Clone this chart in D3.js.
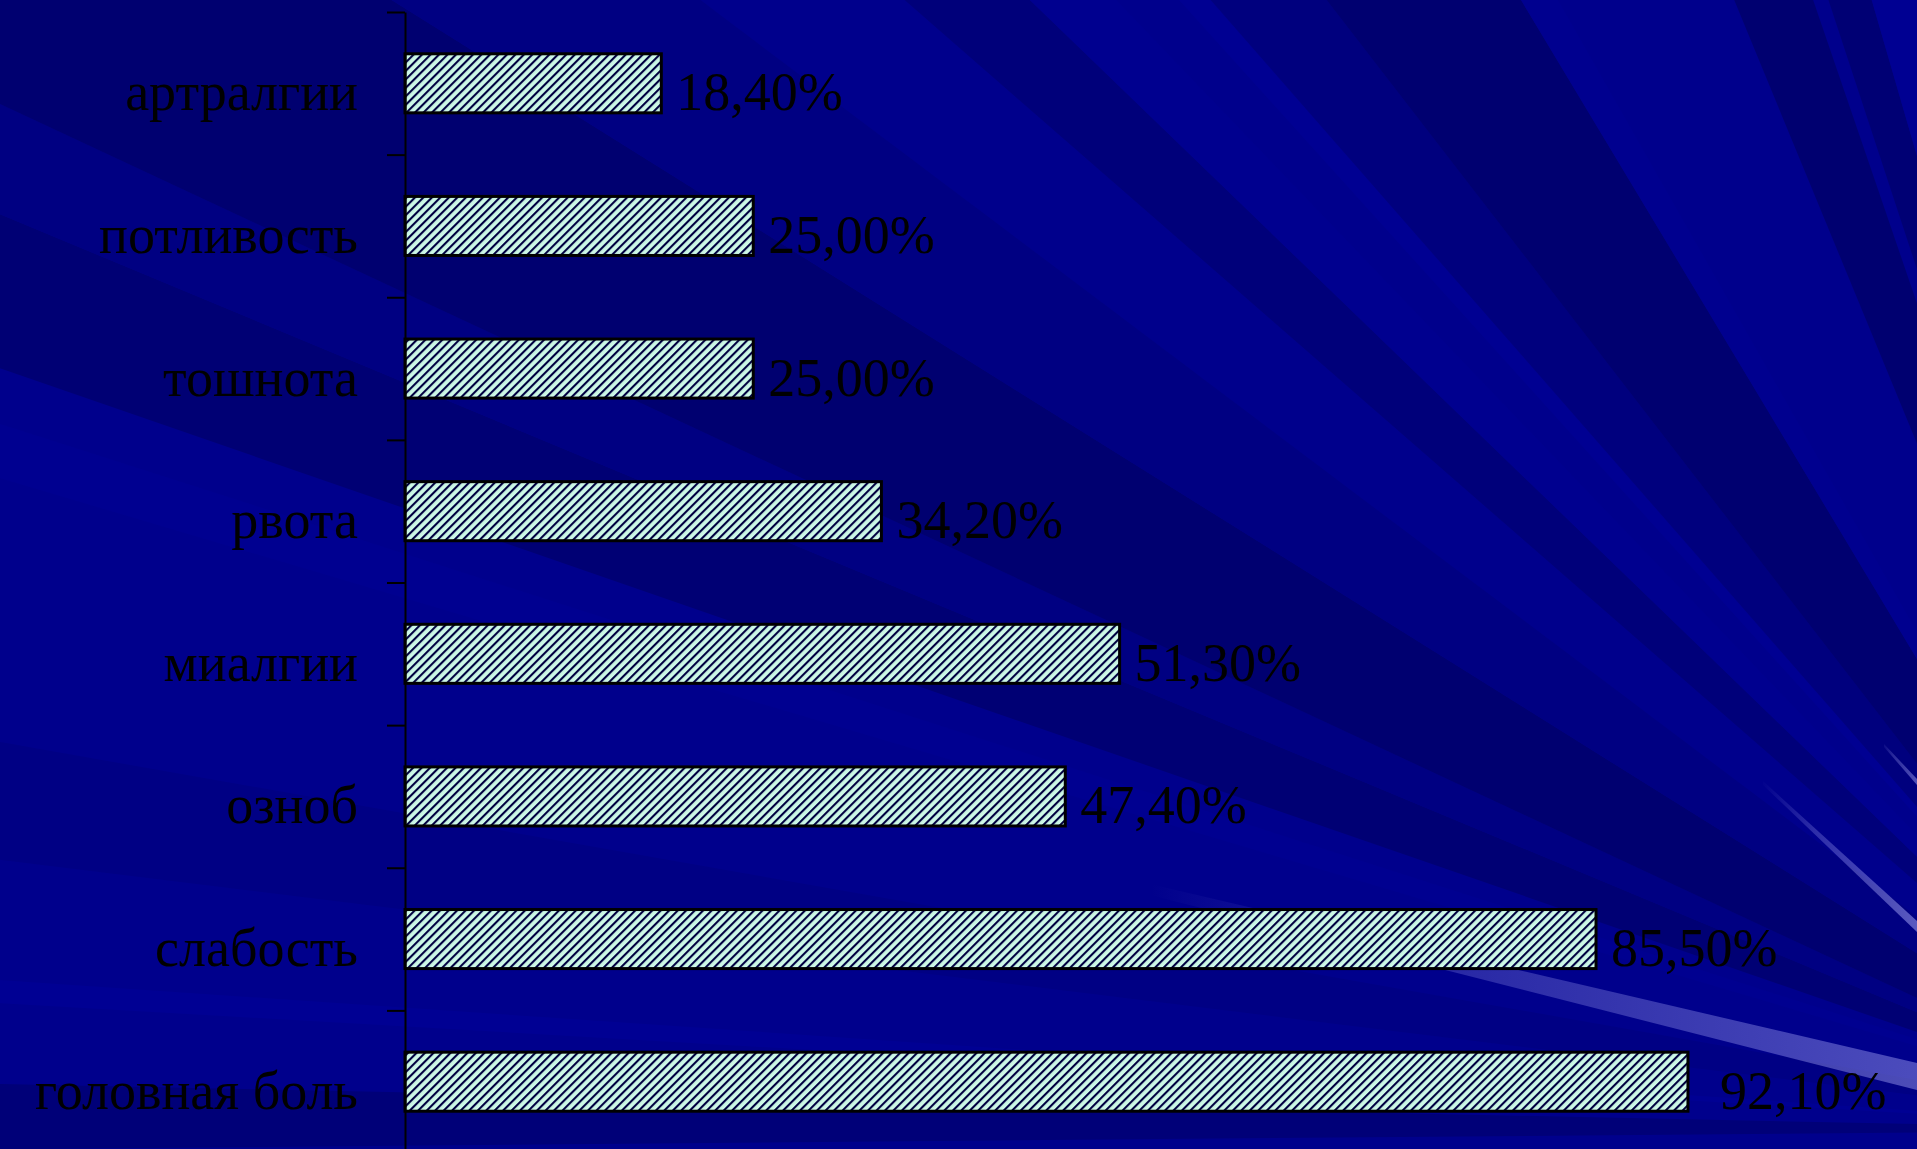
<!DOCTYPE html>
<html>
<head>
<meta charset="utf-8">
<script src="https://cdn.jsdelivr.net/npm/d3@7"></script>
<style>
  html, body { margin: 0; padding: 0; background: #00008c; overflow: hidden; }
  svg { display: block; }
</style>
</head>
<body>
<svg id="chart" width="1917" height="1149"></svg>
<script>
// Symptom frequency, percent of patients
const categories = ["артралгии", "потливость", "тошнота", "рвота", "миалгии", "озноб", "слабость", "головная боль"];
const values = [18.4, 25.0, 25.0, 34.2, 51.3, 47.4, 85.5, 92.1];

const W = 1917, H = 1149;
const svg = d3.select("#chart");
const defs = svg.append("defs");

// ---- Background: dark-blue rays fanning out from a point beyond the lower right corner ----
const focus = [2200, 1130];
const rays = [
  [179.5, 181.2, "#000078"],
  [183.3, 183.9, "#000093"],
  [187.0, 190.0, "#000084"],
  [196.5, 197.8, "#000090"],
  [199.1, 202.6, "#000074"],
  [202.6, 205.0, "#000082"],
  [205.0, 212.0, "#000070"],
  [212.0, 217.0, "#000082"],
  [221.1, 224.0, "#00007a"],
  [224.0, 226.2, "#00008f"],
  [227.9, 228.8, "#000092"],
  [228.8, 232.3, "#00007e"],
  [232.3, 239.0, "#000070"],
  [239.0, 240.4, "#00008f"],
  [247.6, 251.1, "#000070"],
  [251.8, 253.8, "#000074"],
  [253.8, 256.5, "#000092"]
];
const R = 5000, rad = Math.PI / 180;
const bg = svg.append("g").attr("class", "background");
bg.append("rect").attr("width", W).attr("height", H).attr("fill", "#00008c");
bg.selectAll("polygon.ray")
  .data(rays)
  .join("polygon")
  .attr("class", "ray")
  .attr("fill", d => d[2])
  .attr("points", d => [
      focus,
      [focus[0] + R * Math.cos(d[0] * rad), focus[1] + R * Math.sin(d[0] * rad)],
      [focus[0] + R * Math.cos(d[1] * rad), focus[1] + R * Math.sin(d[1] * rad)]
    ].map(p => p.join(",")).join(" "));

// pale highlight beams near the lower right
function beamGradient(id, x1, x2, peak) {
  const g = defs.append("linearGradient")
    .attr("id", id).attr("gradientUnits", "userSpaceOnUse")
    .attr("x1", x1).attr("y1", 0).attr("x2", x2).attr("y2", 0);
  g.append("stop").attr("offset", 0).attr("stop-color", "#b4b4ff").attr("stop-opacity", 0);
  g.append("stop").attr("offset", 0.35).attr("stop-color", "#b4b4ff").attr("stop-opacity", peak * 0.5);
  g.append("stop").attr("offset", 1).attr("stop-color", "#b4b4ff").attr("stop-opacity", peak);
}
beamGradient("beamWide", 1150, 1917, 0.42);
beamGradient("beamThin", 1760, 1917, 0.5);
beamGradient("beamTop", 1880, 1917, 0.45);

const beams = [
  { fill: "url(#beamWide)", pts: [[1150, 884], [1917, 1063], [1917, 1090], [1150, 895]] },
  { fill: "url(#beamThin)", pts: [[1763, 781], [1917, 921], [1917, 932], [1763, 785]] },
  { fill: "url(#beamTop)",  pts: [[1884, 744], [1917, 779], [1917, 785], [1884, 747]] }
];
bg.selectAll("polygon.beam")
  .data(beams)
  .join("polygon")
  .attr("class", "beam")
  .attr("fill", d => d.fill)
  .attr("points", d => d.pts.map(p => p.join(",")).join(" "));

// ---- Hatch fill for the bars: pale mint with navy upward diagonals ----
const hatch = defs.append("pattern")
  .attr("id", "hatch")
  .attr("patternUnits", "userSpaceOnUse")
  .attr("width", 6).attr("height", 6)
  .attr("patternTransform", "rotate(45)");
hatch.append("rect").attr("width", 6).attr("height", 6).attr("fill", "#ccf8e6");
hatch.append("rect").attr("x", 0).attr("width", 2.1).attr("height", 6).attr("fill", "#000040");

// ---- Scales ----
const x = d3.scaleLinear().domain([0, 100]).range([405, 1798]);
const y = d3.scaleBand()
  .domain(categories)
  .range([12, 1153])
  .paddingInner(0.586)
  .paddingOuter(0.293);
// band boundaries, used for the axis tick marks
const yEdge = d3.scaleLinear().domain([0, categories.length]).range(y.range());

const fmt = d3.formatLocale({ decimal: ",", thousands: " ", grouping: [3], currency: ["", ""] }).format(".2f");

// ---- Bars ----
const data = categories.map((c, i) => ({ c, v: values[i] }));
svg.append("g").attr("class", "bars")
  .selectAll("rect")
  .data(data)
  .join("rect")
  .attr("x", x(0))
  .attr("y", d => y(d.c))
  .attr("width", d => x(d.v) - x(0))
  .attr("height", y.bandwidth())
  .attr("fill", "url(#hatch)")
  .attr("stroke", "#000")
  .attr("stroke-width", 3);

// ---- Category axis ----
const axis = svg.append("g")
  .attr("class", "axis")
  .attr("transform", `translate(${x(0)},0)`)
  .call(d3.axisLeft(yEdge).ticks(categories.length).tickSize(18).tickSizeOuter(0).tickFormat(""));
axis.selectAll("path, line").attr("stroke", "#000").attr("stroke-width", 2);

const fontFamily = "'Liberation Serif', 'Times New Roman', serif";

// category names
svg.append("g").attr("class", "cat-labels")
  .selectAll("text")
  .data(data)
  .join("text")
  .attr("x", 358)
  .attr("y", d => y(d.c) + y.bandwidth() / 2 + 27)
  .attr("text-anchor", "end")
  .attr("font-family", fontFamily)
  .attr("font-size", 54)
  .attr("fill", "#000")
  .text(d => d.c);

// value labels
const vmax = d3.max(values);
svg.append("g").attr("class", "value-labels")
  .selectAll("text")
  .data(data)
  .join("text")
  .attr("x", d => x(d.v) + (d.v === vmax ? 32 : 15))
  .attr("y", d => y(d.c) + y.bandwidth() / 2 + 27)
  .attr("font-family", fontFamily)
  .attr("font-size", 54)
  .attr("fill", "#000")
  .text(d => fmt(d.v) + "%");
</script>
</body>
</html>
